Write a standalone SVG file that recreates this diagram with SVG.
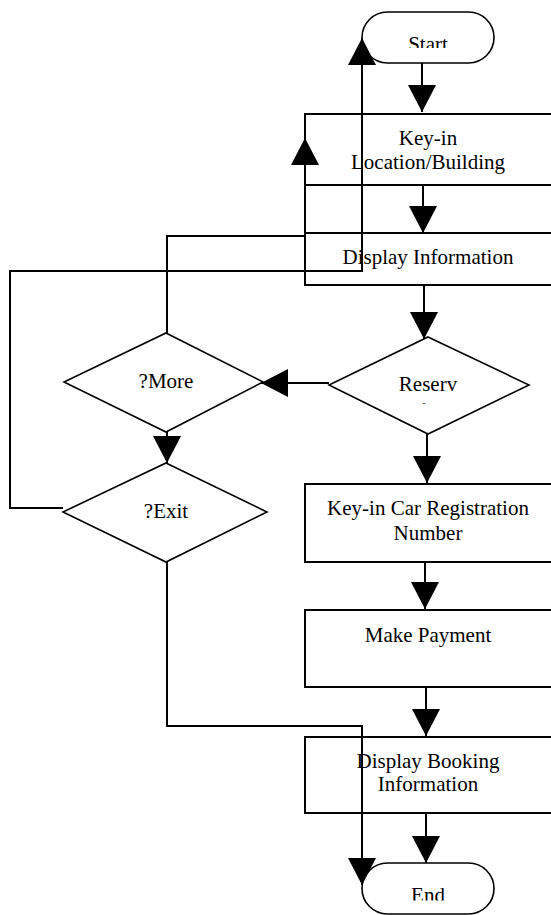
<svg xmlns="http://www.w3.org/2000/svg" width="551" height="915" viewBox="0 0 551 915">
<style>
.s{fill:#fff;stroke:#000;stroke-width:2}
.d{fill:#fff;stroke:#000;stroke-width:1.6}
.c{fill:none;stroke:#000;stroke-width:2}
text{font-family:"Liberation Serif","Times New Roman",serif;font-size:21px;fill:#000;text-anchor:middle}
</style>
<defs>
<marker id="ah" markerUnits="userSpaceOnUse" markerWidth="30" markerHeight="30" refX="27" refY="14" orient="auto">
<path d="M0,0 L27,14 L0,28 Z" fill="#000"/>
</marker>
<clipPath id="cs"><rect x="360" y="0" width="140" height="48"/></clipPath>
<clipPath id="ce"><rect x="360" y="860" width="140" height="40.5"/></clipPath>
</defs>
<g id="start">
<rect class="d" x="362" y="12" width="132" height="51" rx="25.5"/>
<text x="428" y="51" clip-path="url(#cs)">Start</text>
</g>
<g id="keyin">
<rect class="s" x="305" y="114" width="255" height="71"/>
<text x="428" y="145">Key-in</text>
<text x="428" y="169">Location/Building</text>
</g>
<g id="display">
<rect class="s" x="305" y="233" width="255" height="52"/>
<text x="428" y="264">Display Information</text>
</g>
<g id="reserv">
<polygon class="d" points="428,337 529,385 428,434 329,385"/>
<text x="428" y="391">Reserv</text>
<text x="424" y="406" style="font-size:9px">-</text>
</g>
<g id="more">
<polygon class="d" points="166,333 263,382 166,432 64,382"/>
<text x="166" y="388">?More</text>
</g>
<g id="exit">
<polygon class="d" points="166,463 267,512 166,562 63,512"/>
<text x="166" y="518">?Exit</text>
</g>
<g id="keyincar">
<rect class="s" x="305" y="484" width="255" height="78"/>
<text x="428" y="515">Key-in Car Registration</text>
<text x="428" y="540">Number</text>
</g>
<g id="payment">
<rect class="s" x="305" y="610" width="255" height="77"/>
<text x="428" y="642">Make Payment</text>
</g>
<g id="booking">
<rect class="s" x="305" y="737" width="255" height="76"/>
<text x="428" y="768">Display Booking</text>
<text x="428" y="791">Information</text>
</g>
<g id="end">
<rect class="d" x="362" y="863" width="132" height="51" rx="25.5"/>
<text x="428" y="902" clip-path="url(#ce)">End</text>
</g>
<g id="connectors">
<path class="c" d="M422,63 V112" marker-end="url(#ah)"/>
<path class="c" d="M423,185 V233" marker-end="url(#ah)"/>
<path class="c" d="M424,285 V339" marker-end="url(#ah)"/>
<path class="c" d="M329,383 H261" marker-end="url(#ah)"/>
<path class="c" d="M167,432 V463" marker-end="url(#ah)"/>
<path class="c" d="M427,434 V483" marker-end="url(#ah)"/>
<path class="c" d="M425,562 V609" marker-end="url(#ah)"/>
<path class="c" d="M426,687 V736" marker-end="url(#ah)"/>
<path class="c" d="M426,813 V863" marker-end="url(#ah)"/>
<path class="c" d="M167,333 V236 H305 V138" marker-end="url(#ah)"/>
<path class="c" d="M63,508 H10 V271 H362 V38" marker-end="url(#ah)"/>
<path class="c" d="M167,562 V726 H362 V885" marker-end="url(#ah)"/>
</g>
</svg>
